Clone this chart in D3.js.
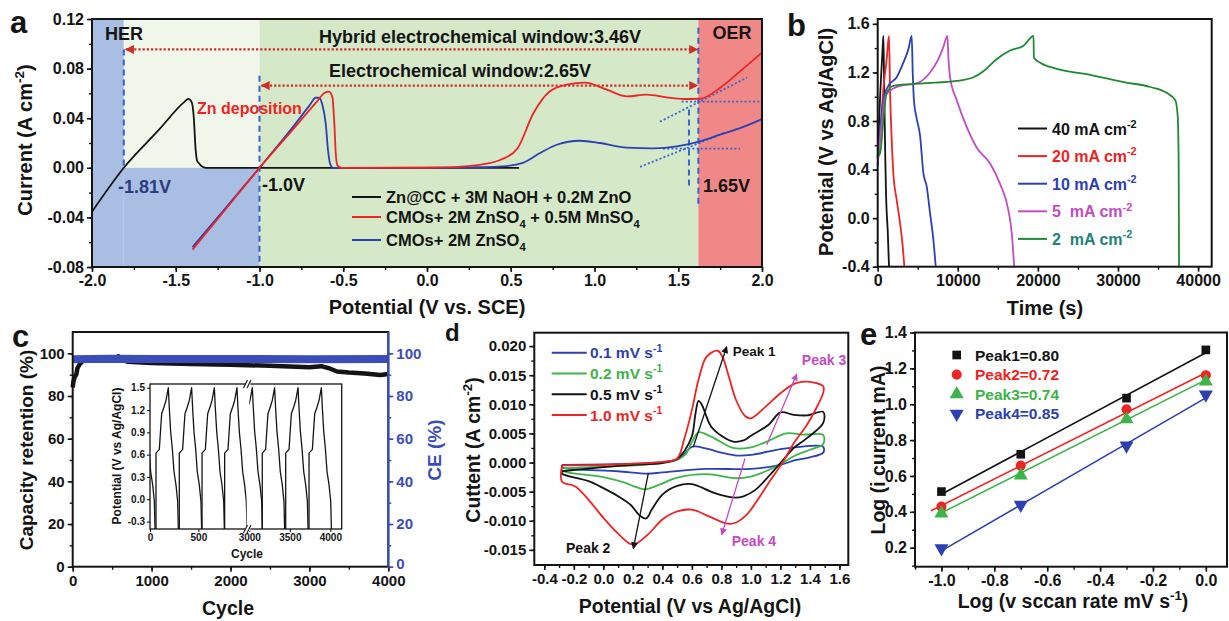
<!DOCTYPE html>
<html>
<head>
<meta charset="utf-8">
<script src="https://cdn.jsdelivr.net/npm/d3@7"></script>
<style>
  body { margin: 0; background: #fff; }
  svg { display: block; }
  text { white-space: pre; }
</style>
</head>
<body>
<div id="fig"></div>
<script>
// ---------- panel a: LSV windows ----------
const aRegionEdges = [-2.0, -1.81, -1.0, 1.62, 2.0]
const aTicksX = [-2.0, -1.5, -1.0, -0.5, 0.0, 0.5, 1.0, 1.5, 2.0]
const aTicksY = [-0.08, -0.04, 0.0, 0.04, 0.08, 0.12]
const aZnCC = [[-2.0, -0.0355], [-1.81, 0], [-1.6, 0.0307], [-1.45, 0.053], [-1.425, 0.0556], [-1.405, 0.053],
  [-1.392, 0.04], [-1.382, 0.016], [-1.372, 0.0055], [-1.36, 0.0035], [-1.345, 0.0012], [-1.32, 0], [0.55, 0]]
const aMn = [[-1.4, -0.066], [-1.2, -0.033], [-1.0, 0], [-0.8, 0.031], [-0.66, 0.053], [-0.61, 0.0605], [-0.585, 0.0614],
  [-0.565, 0.057], [-0.553, 0.035], [-0.545, 0.012], [-0.535, 0.002], [-0.51, 0], [0.1, 0.0003], [0.24, 0.0013],
  [0.34, 0.003], [0.44, 0.0065], [0.54, 0.0156], [0.635, 0.044], [0.734, 0.0617], [0.834, 0.067], [0.943, 0.0687],
  [1.073, 0.063], [1.192, 0.0576], [1.312, 0.059], [1.431, 0.0568], [1.53, 0.0555], [1.63, 0.0557], [1.749, 0.0644],
  [1.869, 0.0778], [2.0, 0.093]]
const aZn = [[-1.4, -0.064], [-1.2, -0.032], [-1.0, 0], [-0.8, 0.033], [-0.7, 0.0505], [-0.665, 0.0565], [-0.645, 0.0565],
  [-0.625, 0.051], [-0.605, 0.036], [-0.59, 0.013], [-0.578, 0.003], [-0.56, 0], [0.0, 0], [0.3, 0.0005], [0.45, 0.0012],
  [0.573, 0.004], [0.675, 0.0119], [0.775, 0.0186], [0.913, 0.0218], [1.033, 0.02], [1.192, 0.0162], [1.351, 0.0157],
  [1.491, 0.0172], [1.63, 0.0213], [1.749, 0.0267], [1.869, 0.032], [2.0, 0.0393]]
const aLegend = ['Zn@CC + 3M NaOH + 0.2M ZnO', 'CMOs+ 2M ZnSO4 + 0.5M MnSO4', 'CMOs+ 2M ZnSO4']
const aDashed = [[-1.81, 0.0955, 0], [-1.0, 0.0743, -0.08], [1.62, 0.113, -0.0323], [1.564, 0.047, -0.015]]
const aTangents = [[[1.52, 0.0533], [1.988, 0.0533]], [[1.391, 0.0372], [1.91, 0.0727]],
  [[1.409, 0.0154], [1.869, 0.0154]], [[1.272, 0.0008], [1.779, 0.0283]]]
const aWindows = [[-1.81, 1.62, 0.0955], [-1.0, 1.62, 0.0663]]

// ---------- panel b: GCD at different current densities ----------
const bTicksX = [0, 10000, 20000, 30000, 40000]
const bTicksY = [-0.4, 0.0, 0.4, 0.8, 1.2, 1.6]
const bLabels = ['40 mA cm', '20 mA cm', '10 mA cm', '5\u00a0 mA cm', '2\u00a0 mA cm']
const b40 = [[0, 0.5], [150, 0.75], [300, 1.0], [450, 1.2], [600, 1.38], [707, 1.5], [780, 1.22], [871, 0.8],
  [960, 0.45], [1040, 0.2], [1121, 0.05], [1250, -0.1], [1413, -0.4]]
const b20 = [[0, 0.55], [288, 0.68], [707, 1.06], [1121, 1.31], [1413, 1.5], [1538, 1.06], [1746, 0.65], [1954, 0.37],
  [2371, 0.15], [2788, -0.04], [3121, -0.23], [3329, -0.4]]
const b10 = [[0, 0.43], [288, 0.7], [707, 0.98], [1330, 1.09], [2371, 1.16], [3204, 1.28], [3829, 1.39], [4246, 1.5],
  [4371, 1.2], [4538, 0.96], [4871, 0.82], [5288, 0.68], [5704, 0.37], [6121, 0.26], [6538, 0.04], [6954, -0.18], [7246, -0.4]]
const b5 = [[0, 0.45], [496, 0.78], [913, 1.0], [1538, 1.05], [2788, 1.09], [4871, 1.11], [6538, 1.2], [7579, 1.31],
  [8204, 1.41], [8704, 1.5], [8829, 1.32], [9038, 1.16], [9871, 0.97], [11121, 0.75], [12371, 0.58], [14038, 0.45],
  [15288, 0.28], [16329, 0.06], [16746, -0.13], [17038, -0.4]]
const b2 = [[0, 0.59], [208, 0.52], [371, 0.56], [704, 0.81], [1121, 1.03], [1954, 1.09], [5704, 1.11], [9871, 1.13],
  [11954, 1.16], [13204, 1.21], [14871, 1.31], [16538, 1.38], [18204, 1.42], [19454, 1.5], [19500, 1.32], [20288, 1.28],
  [22371, 1.23], [26538, 1.18], [30704, 1.12], [34038, 1.08], [36121, 1.03], [37163, 0.97], [37454, 0.84],
  [37579, 0.43], [37621, -0.4]]

// ---------- panel c: cycling ----------
const cTicksX = [0, 1000, 2000, 3000, 4000]
const cTicksY = [0, 20, 40, 60, 80, 100]
const cRetention = [[0, 84], [10, 87], [25, 89], [45, 90], [60, 93], [90, 95], [130, 96.5], [200, 97], [400, 97.3],
  [540, 97.8], [580, 98.6], [620, 97], [700, 96], [1000, 95.5], [1500, 95], [2000, 94.6], [2500, 94.2], [3000, 93.5],
  [3150, 94], [3250, 93], [3350, 91.5], [3500, 91], [3700, 90.5], [3900, 89.8], [4000, 90.3]]
const cCE = [[5, 97.2], [500, 97.5], [1000, 97.3], [2000, 97.4], [3000, 97.2], [4000, 97.3]]
// inset: one charge/discharge profile (fraction of cycle, V) and where each cycle sits on the broken axis
const cProfile = [[0, -0.4], [0, 0.62], [0.06, 0.64], [0.149, 0.67], [0.209, 0.95], [0.254, 1.15], [0.358, 1.24],
  [0.448, 1.33], [0.552, 1.5], [0.597, 1.22], [0.657, 0.91], [0.731, 0.68], [0.806, 0.37], [0.896, 0.19],
  [0.97, -0.03], [1.0, -0.4]]
const cInsetStartsL = [-179, 62, 303, 538, 772]
const cInsetStartsR = [2885, 3160, 3449, 3737]
const cInsetWidthL = 231, cInsetWidthR = 276
const cInsetTicksY = [-0.3, 0.0, 0.3, 0.6, 0.9, 1.2, 1.5]
const cInsetTicksL = [0, 500], cInsetTicksR = [3000, 3500, 4000]

// ---------- panel d: CV at different scan rates ----------
const dTicksX = [-0.4, -0.2, 0.0, 0.2, 0.4, 0.6, 0.8, 1.0, 1.2, 1.4, 1.6]
const dTicksY = [-0.015, -0.010, -0.005, 0.0, 0.005, 0.010, 0.015, 0.020]
const dLabels = ['0.1 mV s', '0.2 mV s', '0.5 mV s', '1.0 mV s']
const dCV01 = [[-0.28, -0.0004], [0.0, -0.0003], [0.3, -0.0001], [0.5, 0.0005], [0.55, 0.0015], [0.6, 0.0027],
  [0.7, 0.0024], [0.8, 0.0017], [0.9, 0.0012], [1.0, 0.0013], [1.2, 0.0023], [1.3, 0.0026], [1.49, 0.0027],
  [1.49, 0.0017], [1.4, 0.0009], [1.3, 0.0004], [1.2, -0.0004], [1.0, -0.0011], [0.7, -0.0011], [0.4, -0.0017],
  [0.3, -0.0019], [0.1, -0.0015], [-0.28, -0.0008], [-0.28, -0.0004]]
const dCV02 = [[-0.28, -0.001], [0.0, -0.0007], [0.3, -0.0003], [0.5, 0.0005], [0.56, 0.0015], [0.6, 0.0035],
  [0.645, 0.0052], [0.7, 0.0048], [0.75, 0.0042], [0.88, 0.0025], [1.0, 0.0026], [1.1, 0.0035], [1.24, 0.005],
  [1.35, 0.0048], [1.49, 0.0047], [1.49, 0.0032], [1.4, 0.0022], [1.3, 0.0012], [1.2, -0.0003], [1.1, -0.0015],
  [1.0, -0.0024], [0.9, -0.0027], [0.7, -0.002], [0.5, -0.0026], [0.38, -0.0038], [0.28, -0.0046], [0.2, -0.004],
  [0.15, -0.0035], [0.0, -0.0025], [-0.28, -0.0014], [-0.28, -0.001]]
const dCV05 = [[-0.28, -0.0015], [0.0, -0.0008], [0.2, -0.0004], [0.4, -0.0001], [0.5, 0.0006], [0.55, 0.002],
  [0.6, 0.0045], [0.625, 0.0085], [0.645, 0.0106], [0.67, 0.0098], [0.69, 0.0085], [0.73, 0.0062], [0.8, 0.0046],
  [0.88, 0.0036], [0.95, 0.0038], [1.0, 0.0046], [1.12, 0.0065], [1.2, 0.0086], [1.29, 0.0082], [1.38, 0.0081],
  [1.49, 0.0087], [1.49, 0.0068], [1.38, 0.0042], [1.29, 0.0025], [1.22, 0.0005], [1.13, -0.0021], [1.03, -0.0047],
  [0.95, -0.0058], [0.88, -0.006], [0.75, -0.0052], [0.6, -0.0037], [0.5, -0.004], [0.4, -0.0055], [0.33, -0.008],
  [0.29, -0.0096], [0.25, -0.0092], [0.186, -0.0073], [0.1, -0.0058], [0.0, -0.0044], [-0.1, -0.0032],
  [-0.28, -0.0019], [-0.28, -0.0015]]
const dCV10 = [[-0.28, -0.0005], [0.0, -0.0004], [0.2, -0.0002], [0.4, 0.0001], [0.5, 0.0007], [0.55, 0.0042],
  [0.6, 0.009], [0.645, 0.0142], [0.7, 0.0182], [0.775, 0.0192], [0.81, 0.018], [0.85, 0.0148], [0.9, 0.0107],
  [0.96, 0.008], [1.0, 0.0076], [1.1, 0.0096], [1.2, 0.0119], [1.3, 0.0136], [1.38, 0.0139], [1.49, 0.0131],
  [1.49, 0.012], [1.44, 0.0092], [1.38, 0.0065], [1.29, 0.0033], [1.22, 0.0002], [1.12, -0.0035], [1.03, -0.007],
  [0.97, -0.009], [0.9, -0.0103], [0.84, -0.0105], [0.72, -0.0093], [0.6, -0.0081], [0.5, -0.0084], [0.4, -0.0098],
  [0.3, -0.0124], [0.2, -0.0141], [0.1, -0.0122], [0.0, -0.0095], [-0.1, -0.0064], [-0.19, -0.0041],
  [-0.28, -0.0033], [-0.28, -0.0005]]
const dArrows = [[[0.61, 0.0027], [0.836, 0.0199]], [[0.305, -0.0018], [0.203, -0.0148]],
  [[1.107, 0.003], [1.311, 0.0152]], [[0.96, 0.0007], [0.802, -0.0124]]]
const dPeakNames = ['Peak 1', 'Peak 2', 'Peak 3', 'Peak 4']

// ---------- panel e: log i vs log v ----------
const eTicksX = [-1.0, -0.8, -0.6, -0.4, -0.2, 0.0]
const eTicksY = [0.2, 0.4, 0.6, 0.8, 1.0, 1.2, 1.4]
const eLogRate = [-1.0, -0.7, -0.3, 0.0]
const ePeak1 = [0.513, 0.721, 1.034, 1.303]
const ePeak2 = [0.429, 0.658, 0.972, 1.162]
const ePeak3 = [0.397, 0.609, 0.922, 1.132]
const ePeak4 = [0.191, 0.433, 0.764, 1.048]
const eFitFrom = [-1.0, -1.04, -1.01, -1.0]
const eLabels = ['Peak1=0.80', 'Peak2=0.72', 'Peak3=0.74', 'Peak4=0.85']

// ---------- drawing ----------
const W = 1229, H = 621
const FONT = '"Liberation Sans", Arial, Helvetica, sans-serif'
const INK = '#141414', RED = '#ee2424', BLUE = '#2d40b2', GREEN = '#3cb448', MAG = '#c24cc4'

const svg = d3.select('#fig').append('svg')
  .attr('width', W).attr('height', H).attr('viewBox', [0, 0, W, H])
  .attr('font-family', FONT).attr('font-weight', 'bold')
const defs = svg.append('defs')

const fmt = (s) => (v) => d3.format(s)(v).replace('\u2212', '-')

function marker(id, color, w, h) {
  defs.append('marker').attr('id', id)
    .attr('viewBox', '0 0 10 10').attr('refX', 9).attr('refY', 5)
    .attr('markerUnits', 'userSpaceOnUse').attr('markerWidth', w).attr('markerHeight', h)
    .attr('orient', 'auto-start-reverse')
    .append('path').attr('d', 'M0,0L10,5L0,10Z').attr('fill', color)
}
marker('arRed', '#d42a2a', 11, 9)
marker('arInk', INK, 8, 7)
marker('arMag', MAG, 8, 7)

// text with sub/superscripts; parts: 'plain' or ['txt','sup'|'sub']
function label(x, y, parts, o = {}) {
  const fs = o.size || 16
  const t = svg.append('text').attr('x', x).attr('y', y).attr('font-size', fs)
    .attr('fill', o.color || INK).attr('text-anchor', o.anchor || 'start')
  if (o.rotate) t.attr('transform', `rotate(${o.rotate},${x},${y})`)
  let shift = 0
  ;[].concat(parts).forEach((p) => {
    const [s, k] = typeof p === 'string' ? [p, ''] : p
    const off = k === 'sup' ? -0.42 * fs : k === 'sub' ? 0.28 * fs : 0
    const ts = t.append('tspan').text(s).attr('dy', off - shift)
    if (k) ts.attr('font-size', fs * 0.68)
    shift = off
  })
  return t
}

function axis(scale, orient, pos, major, minor, format, o = {}) {
  const color = o.color || INK
  const mk = { bottom: d3.axisBottom, left: d3.axisLeft, right: d3.axisRight }[orient]
  const tr = orient === 'bottom' ? `translate(0,${pos})` : `translate(${pos},0)`
  if (minor) {
    svg.append('g').attr('transform', tr)
      .call(mk(scale).tickValues(minor).tickSize(o.minorSize || 3).tickFormat(''))
      .call((g) => g.select('.domain').remove())
      .selectAll('line').attr('stroke', color).attr('stroke-width', 1.4)
  }
  const g = svg.append('g').attr('transform', tr)
    .call(mk(scale).tickValues(major).tickSize(o.tick || 5).tickPadding(o.pad || 3).tickFormat(format))
  g.attr('font-family', null).attr('font-size', null)
  g.select('.domain').remove()
  g.selectAll('line').attr('stroke', color).attr('stroke-width', o.width || 1.6)
  g.selectAll('text').attr('fill', color).attr('font-size', o.size || 16).attr('font-weight', 'bold')
  return g
}

function frame(x, y, o = {}) {
  const [x0, x1] = x.range(), [y0, y1] = y.range()
  svg.append('rect').attr('x', x0).attr('y', y1).attr('width', x1 - x0).attr('height', y0 - y1)
    .attr('fill', o.fill || 'none').attr('stroke', o.color || INK).attr('stroke-width', o.width || 2)
}

function curve(x, y, pts, color, o = {}) {
  return svg.append('path').datum(pts)
    .attr('d', d3.line().x((d) => x(d[0])).y((d) => y(d[1])).curve(o.curve || d3.curveLinear))
    .attr('fill', 'none').attr('stroke', color).attr('stroke-width', o.width || 1.8)
    .attr('stroke-linejoin', 'round').attr('stroke-linecap', o.cap || 'butt')
}

// ===== a =====
{
  const x = d3.scaleLinear([-2, 2], [92, 762])
  const y = d3.scaleLinear([-0.08, 0.12], [267, 19])
  const [e0, e1, e2, e3, e4] = aRegionEdges
  const rect = (xa, xb, ya, yb, c) => svg.append('rect').attr('x', x(xa)).attr('y', y(yb))
    .attr('width', x(xb) - x(xa)).attr('height', y(ya) - y(yb)).attr('fill', c)
  rect(e0, e1, -0.08, 0.12, '#a9bee3')
  rect(e1, e2, 0, 0.12, '#f1f6eb')
  rect(e1, e2, -0.08, 0, '#a9bee3')
  rect(e2, e3, -0.08, 0.12, '#d5e9c9')
  rect(e3, e4, -0.08, 0.12, '#f08888')

  aDashed.forEach(([v, ya, yb]) => svg.append('line')
    .attr('x1', x(v)).attr('x2', x(v)).attr('y1', y(ya)).attr('y2', y(yb))
    .attr('stroke', '#3563cf').attr('stroke-width', 2).attr('stroke-dasharray', '6,4'))
  aTangents.forEach((seg) => curve(x, y, seg, '#3563cf', { width: 1.8 }).attr('stroke-dasharray', '2,2.2'))
  aWindows.forEach(([xa, xb, v]) => svg.append('line')
    .attr('x1', x(xa) + 2).attr('x2', x(xb) - 1).attr('y1', y(v)).attr('y2', y(v))
    .attr('stroke', '#d42a2a').attr('stroke-width', 2.2).attr('stroke-dasharray', '2.2,2')
    .attr('marker-start', 'url(#arRed)').attr('marker-end', 'url(#arRed)'))

  curve(x, y, aZnCC, INK, { curve: d3.curveMonotoneX })
  curve(x, y, aZn, BLUE, { curve: d3.curveMonotoneX })
  curve(x, y, aMn, RED, { curve: d3.curveMonotoneX })

  frame(x, y)
  axis(x, 'bottom', 267, aTicksX, d3.range(-2, 2.01, 0.25), fmt('.1f'))
  axis(y, 'left', 92, aTicksY, d3.range(-0.08, 0.121, 0.02), fmt('.2f'))

  label(124, 40, 'HER', { size: 18, anchor: 'middle' })
  label(732, 39, 'OER', { size: 18, anchor: 'middle' })
  label(480, 43, 'Hybrid electrochemical window:3.46V', { size: 18, anchor: 'middle' })
  label(460, 77, 'Electrochemical window:2.65V', { size: 18, anchor: 'middle' })
  label(197, 114, 'Zn deposition', { size: 16, color: RED })
  label(118, 193, '-1.81V', { size: 18, color: '#2c3c7c' })
  label(262, 191, '-1.0V', { size: 18 })
  label(703, 192, '1.65V', { size: 18 })

  const rows = [197, 217, 240]
  const cols = [INK, RED, BLUE]
  const parts = [[aLegend[0]],
    ['CMOs+ 2M ZnSO', ['4', 'sub'], ' + 0.5M MnSO', ['4', 'sub']],
    ['CMOs+ 2M ZnSO', ['4', 'sub']]]
  rows.forEach((ry, i) => {
    svg.append('line').attr('x1', 352).attr('x2', 381).attr('y1', ry).attr('y2', ry)
      .attr('stroke', cols[i]).attr('stroke-width', 2)
    label(386, ry + 6, parts[i], { size: 16.5 })
  })

  label(32, 140, ['Current (A cm', ['-2', 'sup'], ')'], { size: 20, anchor: 'middle', rotate: -90 })
  label(427, 314, 'Potential (V vs. SCE)', { size: 20, anchor: 'middle' })
  label(10, 33, 'a', { size: 31 })
}

// ===== b =====
{
  const x = d3.scaleLinear([0, 41700], [877.7, 1211.7])
  const y = d3.scaleLinear([-0.4, 1.64], [266.7, 19])
  const series = [b40, b20, b10, b5, b2]
  const lineCols = [INK, RED, BLUE, MAG, '#1f8a32']
  const textCols = [INK, RED, BLUE, MAG, '#1e8274']
  series.forEach((s, i) => curve(x, y, s, lineCols[i], { curve: d3.curveMonotoneX, width: 1.8 }))
  frame(x, y)
  axis(x, 'bottom', 266.7, bTicksX, d3.range(0, 40001, 5000), fmt('d'))
  axis(y, 'left', 877.7, bTicksY, d3.range(-0.4, 1.61, 0.2), fmt('.1f'))
  bLabels.forEach((t, i) => {
    const ry = 128.5 + i * 27.6
    svg.append('line').attr('x1', 1018).attr('x2', 1047).attr('y1', ry).attr('y2', ry)
      .attr('stroke', lineCols[i]).attr('stroke-width', 2)
    label(1052, ry + 6, [t, ['-2', 'sup']], { size: 16, color: textCols[i] })
  })
  label(833, 142, 'Potential (V vs Ag/AgCl)', { size: 20, anchor: 'middle', rotate: -90 })
  label(1045, 315, 'Time (s)', { size: 20, anchor: 'middle' })
  label(787, 36, 'b', { size: 31 })
}

// ===== c =====
{
  const x = d3.scaleLinear([0, 4000], [72.7, 388.3])
  const y = d3.scaleLinear([0, 110], [566.7, 332])
  const CEC = '#3a4db8'
  curve(x, y, cRetention, INK, { width: 4.5 })
  curve(x, y, cCE, CEC, { width: 8 })
  frame(x, y)
  svg.append('line').attr('x1', 388.3).attr('x2', 388.3).attr('y1', 332).attr('y2', 566.7)
    .attr('stroke', CEC).attr('stroke-width', 2.2)
  axis(x, 'bottom', 566.7, cTicksX, d3.range(0, 4001, 500), fmt('d'), { size: 15, pad: 4 })
  axis(y, 'left', 72.7, cTicksY, d3.range(0, 101, 10), fmt('d'), { size: 15 })
  axis(y, 'right', 388.3, cTicksY, d3.range(0, 101, 10), fmt('d'), { size: 15, color: CEC })
    .selectAll('text').attr('dy', (d) => (d === 0 ? '0.1em' : '0.32em'))

  // inset with a broken x axis
  const iy = d3.scaleLinear([-0.4, 1.55], [529, 384])
  const ixL = d3.scaleLinear([0, 1000], [150, 246.7])
  const ixR = d3.scaleLinear([3000, 4140], [249.3, 341.7])
  svg.append('rect').attr('x', 150).attr('y', 384).attr('width', 191.7).attr('height', 145)
    .attr('fill', '#fff').attr('stroke', INK).attr('stroke-width', 1.3)
  const clip = (id, xa, xb) => defs.append('clipPath').attr('id', id).append('rect')
    .attr('x', xa).attr('y', 384).attr('width', xb - xa).attr('height', 145)
  clip('clipL', 150, 246.7)
  clip('clipR', 249.3, 341.7)
  const cycles = (starts, w) => starts.map((s) => cProfile.map(([f, v]) => [s + f * w, v]))
  cycles(cInsetStartsL, cInsetWidthL).forEach((pts) =>
    curve(ixL, iy, pts, INK, { width: 1.3 }).attr('clip-path', 'url(#clipL)'))
  cycles(cInsetStartsR, cInsetWidthR).forEach((pts) =>
    curve(ixR, iy, pts, INK, { width: 1.3 }).attr('clip-path', 'url(#clipR)'))
  const small = { size: 10, tick: 3, pad: 2, width: 1.1 }
  axis(iy, 'left', 150, cInsetTicksY, null, fmt('.1f'), small)
  axis(ixL, 'bottom', 529, cInsetTicksL, null, fmt('d'), small)
  axis(ixR, 'bottom', 529, cInsetTicksR, null, fmt('d'), small)
  ;[384, 529].forEach((by) => {
    svg.append('rect').attr('x', 245.6).attr('y', by - 2).attr('width', 4.8).attr('height', 4).attr('fill', '#fff')
    ;[245, 248.5].forEach((bx) => svg.append('line')
      .attr('x1', bx - 1.5).attr('y1', by + 4).attr('x2', bx + 2.5).attr('y2', by - 4)
      .attr('stroke', INK).attr('stroke-width', 1.1))
  })
  label(121, 456, 'Potential (V vs Ag/AgCl)', { size: 12, anchor: 'middle', rotate: -90 })
  label(247, 558, 'Cycle', { size: 12, anchor: 'middle' })

  label(33, 450, 'Capacity retention (%)', { size: 19, anchor: 'middle', rotate: -90 })
  label(441, 450, 'CE (%)', { size: 19, anchor: 'middle', rotate: -90, color: CEC })
  label(228, 615, 'Cycle', { size: 19.5, anchor: 'middle' })
  label(12, 347, 'c', { size: 31 })
}

// ===== d =====
{
  const x = d3.scaleLinear([-0.468, 1.66], [534.3, 848.3])
  const y = d3.scaleLinear([-0.0176, 0.0223], [565, 332.7])
  const series = [dCV01, dCV02, dCV05, dCV10]
  const cols = [BLUE, GREEN, INK, RED]
  series.forEach((s, i) => curve(x, y, s, cols[i], { curve: d3.curveCatmullRom.alpha(0.5), width: 1.8 }))
  const arrowCols = [INK, INK, MAG, MAG]
  dArrows.forEach((seg, i) => curve(x, y, seg, arrowCols[i], { width: 1.3 })
    .attr('marker-end', `url(#${i < 2 ? 'arInk' : 'arMag'})`))
  frame(x, y)
  axis(x, 'bottom', 565, dTicksX, d3.range(-0.4, 1.61, 0.1), fmt('.1f'), { size: 15 })
  axis(y, 'left', 534.3, dTicksY, d3.range(-0.015, 0.0201, 0.0025), fmt('.3f'), { size: 15 })

  label(x(0.877), y(0.0192) + 5, dPeakNames[0], { size: 13.5 })
  label(x(-0.253), y(-0.0147) + 5, dPeakNames[1], { size: 14 })
  label(x(1.345), y(0.0176) + 5, dPeakNames[2], { size: 14, color: MAG })
  label(x(0.87), y(-0.0134) + 5, dPeakNames[3], { size: 14, color: MAG })

  dLabels.forEach((t, i) => {
    const ry = 352.7 + i * 20.8
    svg.append('line').attr('x1', 551.7).attr('x2', 586.7).attr('y1', ry).attr('y2', ry)
      .attr('stroke', cols[i]).attr('stroke-width', 2)
    label(590, ry + 5.5, [t, ['-1', 'sup']], { size: 15.5, color: cols[i] })
  })
  label(480, 450, ['Cuttent (A cm', ['-2', 'sup'], ')'], { size: 19.5, anchor: 'middle', rotate: -90 })
  label(690, 613, 'Potential (V vs Ag/AgCl)', { size: 19.5, anchor: 'middle' })
  label(445, 341, 'd', { size: 24 })
}

// ===== e =====
{
  const x = d3.scaleLinear([-1.1, 0.08], [915, 1227])
  const y = d3.scaleLinear([0.094, 1.4], [566.7, 332.5])
  const peaks = [ePeak1, ePeak2, ePeak3, ePeak4]
  const cols = [INK, RED, GREEN, BLUE]
  const syms = [d3.symbolSquare, d3.symbolCircle, d3.symbolTriangle, d3.symbolTriangle]
  const sizes = [75, 80, 85, 85]
  const rot = [0, 0, 0, 180]
  const sym = (i) => d3.symbol(syms[i], sizes[i])()
  peaks.forEach((vals, i) => {
    const pts = eLogRate.map((r, j) => [r, vals[j]])
    const mx = d3.mean(pts, (d) => d[0]), my = d3.mean(pts, (d) => d[1])
    const k = d3.sum(pts, (d) => (d[0] - mx) * (d[1] - my)) / d3.sum(pts, (d) => (d[0] - mx) ** 2)
    const f = (v) => my + k * (v - mx)
    const x1 = d3.max(eLogRate)
    curve(x, y, [[eFitFrom[i], f(eFitFrom[i])], [x1, f(x1)]], cols[i], { width: 1.6 })
    svg.append('g').selectAll('path').data(pts).join('path')
      .attr('transform', (d) => `translate(${x(d[0])},${y(d[1]) + (rot[i] ? -1 : i === 2 ? 1 : 0)}) rotate(${rot[i]})`)
      .attr('d', sym(i)).attr('fill', cols[i])
  })
  frame(x, y)
  axis(x, 'bottom', 566.7, eTicksX, d3.range(-1.1, 0.01, 0.1), fmt('.1f'))
  axis(y, 'left', 915, eTicksY, d3.range(0.1, 1.41, 0.1), fmt('.1f'))
  eLabels.forEach((t, i) => {
    const ry = 355 + i * 19.6
    svg.append('path').attr('transform', `translate(956.7,${ry}) rotate(${rot[i]})`)
      .attr('d', sym(i)).attr('fill', cols[i])
    label(975, ry + 5.5, t, { size: 15.5, color: cols[i] })
  })
  label(885, 450, 'Log (i current mA)', { size: 19.5, anchor: 'middle', rotate: -90 })
  label(1073, 608, ['Log (v sccan rate mV s', ['-1', 'sup'], ')'], { size: 19.5, anchor: 'middle' })
  label(860, 345, 'e', { size: 31 })
}
</script>
</body>
</html>
